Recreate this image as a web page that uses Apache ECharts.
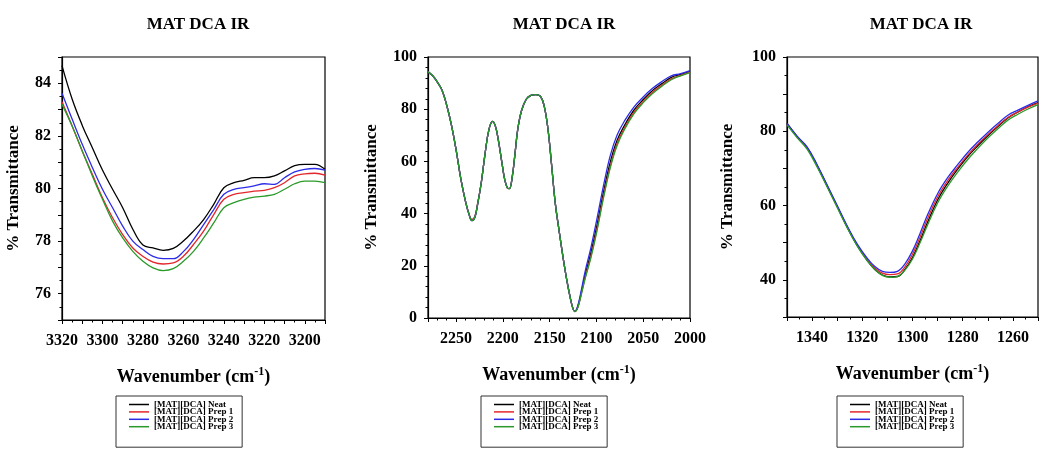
<!DOCTYPE html>
<html>
<head>
<meta charset="utf-8">
<script src="https://cdn.jsdelivr.net/npm/echarts@6/dist/echarts.min.js"></script>
<style>
  html, body { margin: 0; padding: 0; background: #fff; }
  #chart { width: 1041px; height: 449px; }
</style>
</head>
<body>
<div id="chart"></div>
<script>
// series names
var names = ['[MAT][DCA] Neat', '[MAT][DCA] Prep 1', '[MAT][DCA] Prep 2', '[MAT][DCA] Prep 3'];
var colors = ['#000000', '#e3262b', '#2b2be8', '#2a9a2a'];

// panel 1: 3320 - 3190 cm-1
var wn1 = [3320, 3315, 3310, 3305, 3300, 3295, 3290, 3285, 3280, 3275, 3270, 3265, 3260, 3255,
  3250, 3245, 3240, 3235, 3230, 3225, 3220, 3215, 3210, 3205, 3200, 3195, 3190];
var neat1 = [84.67, 83.4, 82.4, 81.55, 80.7, 79.97, 79.27, 78.45, 77.85, 77.74, 77.65, 77.72, 78.0, 78.38,
  78.82, 79.4, 80.03, 80.22, 80.31, 80.41, 80.41, 80.48, 80.67, 80.87, 80.92, 80.92, 80.73];
var prep1a = [83.3, 82.38, 81.43, 80.54, 79.65, 78.89, 78.25, 77.74, 77.42, 77.2, 77.13, 77.17, 77.42, 77.87,
  78.38, 79.01, 79.59, 79.78, 79.84, 79.9, 79.93, 80.03, 80.22, 80.48, 80.56, 80.58, 80.51];
var prep2a = [83.62, 82.64, 81.68, 80.8, 79.97, 79.27, 78.57, 78.0, 77.68, 77.42, 77.33, 77.33, 77.6, 78.06,
  78.63, 79.2, 79.78, 79.97, 80.03, 80.1, 80.18, 80.16, 80.41, 80.63, 80.73, 80.76, 80.7];
var prep3a = [83.2, 82.38, 81.43, 80.48, 79.59, 78.76, 78.12, 77.61, 77.23, 76.98, 76.88, 76.95, 77.23, 77.61,
  78.12, 78.69, 79.27, 79.46, 79.59, 79.67, 79.71, 79.78, 79.97, 80.18, 80.28, 80.28, 80.22];

// panel 2: 2280 - 2000 cm-1
var wn2 = [2280, 2275, 2270, 2265, 2260, 2255, 2250, 2245, 2240, 2236, 2233, 2230, 2227, 2223, 2219,
  2215, 2211, 2208, 2205, 2201, 2198, 2195, 2193, 2190, 2187, 2184, 2180, 2175, 2170, 2165, 2160,
  2156, 2152, 2148, 2144, 2140, 2136, 2132, 2128, 2125, 2123, 2120, 2116, 2112, 2106, 2100, 2092,
  2085, 2078, 2070, 2060, 2050, 2040, 2030, 2020, 2010, 2000];
var neat2 = [94.3, 92.8, 90.4, 87.3, 81.5, 74, 64.5, 53.5, 44.8, 39.5, 37.3, 38.5, 43.5, 52, 63,
  72, 75.3, 73.5, 68.5, 59.5, 53, 49.8, 49.6, 54, 63, 72.5, 79.5, 83.8, 85.3, 85.6, 85,
  81.5, 73, 59, 44, 33.7, 24, 15.2, 7.8, 3.5, 2.5, 4.2, 10, 16.5, 24.8, 34.5, 49,
  60, 68, 73.8, 79.6, 83.7, 87.2, 89.8, 92.2, 93.3, 94.5];
var prep1b = [94.3, 92.8, 90.4, 87.3, 81.5, 74, 64.5, 53.5, 44.8, 39.7, 37.8, 38.9, 43.8, 52, 63,
  72, 75.3, 73.5, 68.5, 59.5, 53, 49.8, 49.6, 54, 63, 72.5, 79.5, 83.8, 85.3, 85.6, 85,
  81.5, 73, 59, 44, 33.7, 24, 15.2, 7.8, 3.5, 2.5, 4.0, 9.5, 15.5, 23.5, 33, 47.5,
  58.5, 66.8, 72.8, 78.8, 83, 86.5, 89.2, 91.6, 93, 94.2];
var prep2b = [94.3, 92.8, 90.4, 87.3, 81.5, 74, 64.5, 53.5, 44.8, 39.5, 37.3, 38.5, 43.5, 52, 63,
  72, 75.3, 73.5, 68.5, 59.5, 53, 49.8, 49.6, 54, 63, 72.5, 79.5, 83.8, 85.3, 85.6, 85,
  81.5, 73, 59, 44, 33.7, 24, 15.2, 7.8, 3.5, 2.6, 4.6, 11, 18, 26.8, 37, 51.5,
  62.5, 70, 75.5, 80.8, 84.7, 88, 90.6, 92.8, 93.6, 94.8];
var prep3b = [94.3, 92.8, 90.4, 87.3, 81.5, 74, 64.5, 53.5, 44.8, 39.5, 37.3, 38.5, 43.5, 52, 63,
  72, 75.3, 73.5, 68.5, 59.5, 53, 49.8, 49.6, 54, 63, 72.5, 79.5, 83.8, 85.3, 85.6, 85,
  81.5, 73, 59, 44, 33.7, 24, 15.2, 7.8, 3.5, 2.5, 3.9, 9.3, 15.2, 23, 32.4, 46.8,
  57.8, 66, 72.2, 78.2, 82.5, 86, 88.8, 91.3, 92.8, 94];

// panel 3: 1350 - 1250 cm-1
var wn3 = [1350, 1346, 1342, 1338, 1334, 1330, 1326, 1322, 1318, 1315, 1312, 1309, 1306, 1303,
  1300, 1297, 1294, 1290, 1286, 1282, 1278, 1274, 1270, 1266, 1262, 1258, 1254, 1250];
var neat3 = [82.1, 78.6, 75.6, 70.8, 65.3, 59.8, 54.2, 49.2, 45.2, 42.8, 41.3, 40.8, 40.9, 42.8,
  46, 50.5, 55.5, 61.5, 66, 69.8, 73.2, 76.1, 78.8, 81.3, 83.6, 85.2, 86.6, 87.7];
var prep1c = [81.9, 78.5, 75.5, 70.7, 65.2, 59.7, 54.2, 49.3, 45.4, 43.2, 41.8, 41.4, 41.6, 43.5,
  46.9, 51.5, 56.5, 62.3, 66.7, 70.3, 73.6, 76.5, 79.1, 81.5, 83.7, 85.2, 86.5, 87.6];
var prep2c = [82.1, 78.7, 75.8, 71, 65.5, 60, 54.5, 49.6, 45.8, 43.6, 42.3, 42, 42.3, 44.3,
  47.8, 52.5, 57.5, 63.2, 67.5, 71, 74.3, 77.1, 79.7, 82.1, 84.3, 85.7, 87, 88.2];
var prep3c = [81.7, 78.3, 75.2, 70.4, 65, 59.5, 54, 49.1, 45.1, 42.8, 41.2, 40.7, 40.9, 42.6,
  45.6, 50, 54.8, 60.7, 65.2, 69, 72.4, 75.4, 78.2, 80.7, 83, 84.6, 86, 87.2];

var panels = [
  { wn: wn1, ys: [neat1, prep1a, prep2a, prep3a] },
  { wn: wn2, ys: [neat2, prep1b, prep2b, prep3b] },
  { wn: wn3, ys: [neat3, prep1c, prep2c, prep3c] }
];

var serif = 'Liberation Serif';
var grids = [
  { left: 62, top: 57, width: 263, height: 263 },
  { left: 428, top: 57, width: 262, height: 261 },
  { left: 787, top: 57, width: 259, height: 260 }
];
var titleX = [193, 559, 916];
var legendX = [116, 481, 837];

function pairs(xs, ys) {
  return xs.map(function (x, i) { return [x, ys[i]]; });
}

var tickLabel = { color: '#000', fontFamily: serif, fontWeight: 'bold', fontSize: 16 };

var xAxes = [
  { min: 3190, max: 3320, interval: 10, minor: 2,
    fmt: function (v) { return v % 20 === 0 ? v : ''; } },
  { min: 2000, max: 2280, interval: 50, minor: 5,
    fmt: function (v) { return v % 50 === 0 ? v : ''; } },
  { min: 1250, max: 1350, interval: 10, minor: 2,
    fmt: function (v) { return v % 20 === 0 ? v : ''; } }
].map(function (a, i) {
  return {
    type: 'value', gridIndex: i, inverse: true,
    min: a.min, max: a.max, interval: a.interval,
    name: '{a|Wavenumber (cm}{s|-1}{a|)}',
    nameLocation: 'middle', nameGap: 46,
    nameTextStyle: {
      rich: {
        a: { fontFamily: serif, fontWeight: 'bold', fontSize: 18, color: '#000', lineHeight: 23 },
        s: { fontFamily: serif, fontWeight: 'bold', fontSize: 12, color: '#000', verticalAlign: 'top', lineHeight: 12 }
      }
    },
    axisLine: { show: true, lineStyle: { color: '#000', width: 1.2 } },
    axisTick: { show: true, length: 4, lineStyle: { color: '#000' } },
    minorTick: { show: true, splitNumber: a.minor, length: 2.5, lineStyle: { color: '#000' } },
    splitLine: { show: false },
    axisLabel: Object.assign({ margin: 13, formatter: a.fmt }, tickLabel)
  };
});

var yAxes = [
  { min: 75, max: 85, interval: 1, minor: 2, gap: 40,
    fmt: function (v) { return v % 2 === 0 ? v : ''; } },
  { min: 0, max: 100, interval: 20, minor: 5, gap: 48,
    fmt: function (v) { return v; } },
  { min: 30, max: 100, interval: 10, minor: 2, gap: 51,
    fmt: function (v) { return v % 20 === 0 ? v : ''; } }
].map(function (a, i) {
  return {
    type: 'value', gridIndex: i,
    min: a.min, max: a.max, interval: a.interval,
    name: '% Transmittance',
    nameLocation: 'middle', nameRotate: 90, nameGap: a.gap,
    nameTextStyle: { fontFamily: serif, fontWeight: 'bold', fontSize: 17, color: '#000' },
    axisLine: { show: true, lineStyle: { color: '#000', width: 1.2 } },
    axisTick: { show: true, length: 4, lineStyle: { color: '#000' } },
    minorTick: { show: true, splitNumber: a.minor, length: 2.5, lineStyle: { color: '#000' } },
    splitLine: { show: false },
    axisLabel: Object.assign({ margin: 11, formatter: a.fmt }, tickLabel)
  };
});

var series = [];
panels.forEach(function (p, pi) {
  p.ys.forEach(function (ys, si) {
    series.push({
      name: names[si],
      type: 'line',
      xAxisIndex: pi,
      yAxisIndex: pi,
      data: pairs(p.wn, ys),
      smooth: 0.4,
      showSymbol: false,
      symbol: 'none',
      animation: false,
      lineStyle: { color: colors[si], width: 1.3 },
      itemStyle: { color: colors[si] }
    });
  });
});

var chart = echarts.init(document.getElementById('chart'), null, { renderer: 'canvas' });
chart.setOption({
  backgroundColor: '#fff',
  animation: false,
  color: colors,
  title: titleX.map(function (x) {
    return {
      text: 'MAT DCA IR', left: x, top: 11, textAlign: 'center',
      textStyle: { fontFamily: serif, fontWeight: 'bold', fontSize: 17, color: '#000' }
    };
  }),
  legend: legendX.map(function (x) {
    return {
      data: names, orient: 'vertical', left: x, top: 396,
      icon: 'rect', itemWidth: 20, itemHeight: 1.5, itemGap: -1.6,
      padding: [4, 9, 16, 13],
      borderColor: '#333', borderWidth: 1,
      selectedMode: false,
      textStyle: { fontFamily: serif, fontWeight: 'bold', fontSize: 9, color: '#000' }
    };
  }),
  grid: grids.map(function (g) {
    return Object.assign({ show: true, borderColor: '#000', borderWidth: 1.2, containLabel: false }, g);
  }),
  xAxis: xAxes,
  yAxis: yAxes,
  series: series
});
</script>
</body>
</html>
